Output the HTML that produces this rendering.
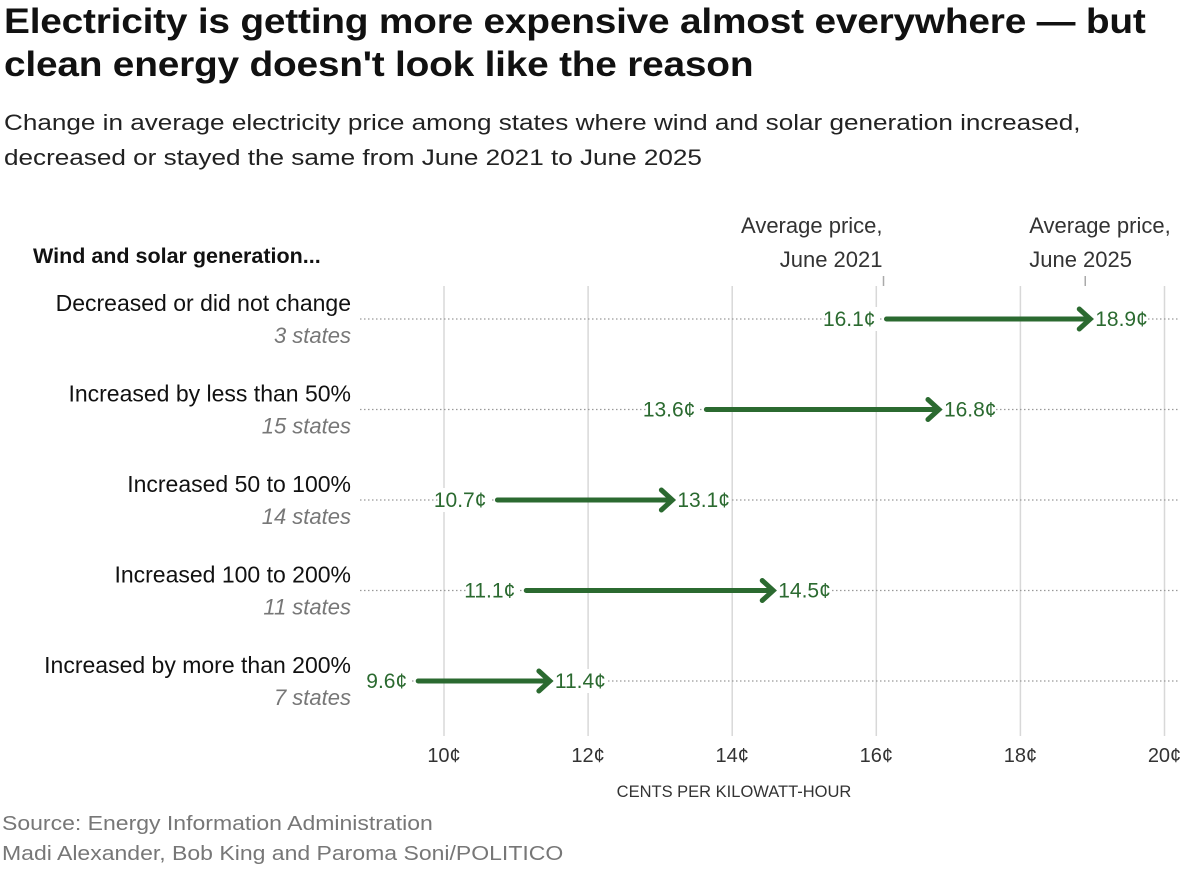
<!DOCTYPE html>
<html><head><meta charset="utf-8"><style>
body{margin:0;background:#fff;font-family:"Liberation Sans",sans-serif;}
#wrap{position:relative;width:1200px;height:870px;overflow:hidden;}
h1{position:absolute;left:4px;top:0;margin:0;font-size:35px;line-height:43px;font-weight:bold;color:#111;letter-spacing:-0.2px;white-space:nowrap;transform:scaleX(1.11);transform-origin:0 0;}
.sub{position:absolute;left:4px;top:105px;font-size:22.5px;line-height:35px;color:#222;white-space:nowrap;transform:scaleX(1.16);transform-origin:0 0;}
.foot{position:absolute;left:2px;font-size:20px;color:#777;transform:scaleX(1.15);transform-origin:0 0;white-space:nowrap;}
</style></head><body>
<div id="wrap">
<h1>Electricity is getting more expensive almost everywhere — but<br>clean energy doesn't look like the reason</h1>
<div class="sub">Change in average electricity price among states where wind and solar generation increased,<br>decreased or stayed the same from June 2021 to June 2025</div>
<svg id="chart" width="1200" height="870" style="position:absolute;left:0;top:0"></svg>
<div class="foot" style="top:813px">Source: Energy Information Administration</div>
<div class="foot" style="top:843px">Madi Alexander, Bob King and Paroma Soni/POLITICO</div>
</div>
<script>
const categories=["Decreased or did not change","Increased by less than 50%","Increased 50 to 100%","Increased 100 to 200%","Increased by more than 200%"];
const stateCounts=["3 states","15 states","14 states","11 states","7 states"];
const price2021=[16.1,13.6,10.7,11.1,9.6];
const price2025=[18.9,16.8,13.1,14.5,11.4];
const ticks=[10,12,14,16,18,20];
const NS="http://www.w3.org/2000/svg";
const svg=document.getElementById('chart');
const x=v=>444+(v-10)*72.05;
const y=i=>319+i*90.5;
const G="#2b6a30";
function mk(t,a,txt){const e=document.createElementNS(NS,t);for(const k in a)e.setAttribute(k,a[k]);if(txt!==undefined)e.textContent=txt;svg.appendChild(e);return e;}
ticks.forEach(t=>{
 const l=mk('line',{x1:x(t),x2:x(t),y1:286,y2:736,stroke:'#d8d8d8','stroke-width':1.5});
 
 
 const tx=mk('text',{x:x(t),y:762,'text-anchor':'middle','font-size':20,fill:'#333'},t+'¢');
 
 
});
const at=mk('text',{x:734,y:797,'text-anchor':'middle','font-size':16.5,fill:'#333'},'CENTS PER KILOWATT-HOUR');


const lh=mk('text',{x:33,y:263,'font-size':21.5,'font-weight':'bold',fill:'#111'},'Wind and solar generation...');


[[price2021[0]],[price2025[0]]].forEach((a,k)=>{
 const xx=x(a[0]);
 const tk=mk('line',{x1:xx,x2:xx,y1:276,y2:286,stroke:'#aaa','stroke-width':1.5});
 
 
 const ax=k==0?xx-1:xx-56;
 const t1=mk('text',{x:ax,y:233,'text-anchor':k==0?'end':'start','font-size':22,fill:'#333'},'Average price,');
 
 
 const t2=mk('text',{x:ax,y:267,'text-anchor':k==0?'end':'start','font-size':22,fill:'#333'},k==0?'June 2021':'June 2025');
 
 
});
categories.forEach((c,i)=>{
 const yy=y(i);
 const d=mk('line',{x1:360,x2:1180,y1:yy,y2:yy,stroke:'#999','stroke-width':1.2,'stroke-dasharray':'1.5,2.5'});
 
 
 const cl=mk('text',{x:351,y:yy-8,'text-anchor':'end','font-size':23,fill:'#111'},c);
 
 
 const sl=mk('text',{x:351,y:yy+24,'text-anchor':'end','font-size':22,'font-style':'italic',fill:'#777'},stateCounts[i]);
 
 
 const x1=x(price2021[i]),x2=x(price2025[i]);
 const bg1=mk('rect',{x:x1-56,y:yy-12,width:52,height:24,fill:'#fff'});
 
 
 const bg2=mk('rect',{x:x2+8,y:yy-12,width:54,height:24,fill:'#fff'});
 
 
 const ln=mk('line',{x1:x1+3,x2:x2+2,y1:yy,y2:yy,stroke:G,'stroke-width':5,'stroke-linecap':'round'});
 
 
 const hd=mk('polyline',{points:`${x2-6},${yy-10} ${x2+5},${yy} ${x2-6},${yy+10}`,fill:'none',stroke:G,'stroke-width':5,'stroke-linecap':'round','stroke-linejoin':'miter'});
 
 
 const a=mk('text',{x:x1-8,y:yy+7,'text-anchor':'end','font-size':21,fill:G},price2021[i].toFixed(1)+'¢');
 
 
 const b=mk('text',{x:x2+10,y:yy+7,'text-anchor':'start','font-size':21,fill:G},price2025[i].toFixed(1)+'¢');
 
 
});
</script>
</body></html>
